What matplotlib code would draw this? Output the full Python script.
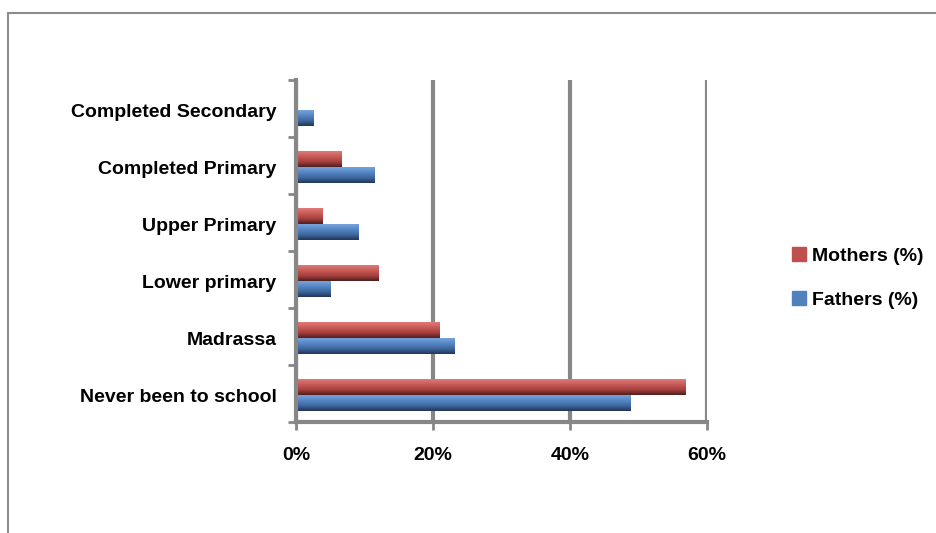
import numpy as np
import matplotlib
matplotlib.use('Agg')
import matplotlib.pyplot as plt
from matplotlib.patches import Rectangle
from matplotlib.colors import LinearSegmentedColormap
import matplotlib.ticker as ticker

plt.rcParams['font.family'] = ['Liberation Sans Narrow', 'Liberation Sans', 'DejaVu Sans']

## data ######################################################################
levels = ['Never been to school', 'Madrassa', 'Lower primary',
          'Upper Primary', 'Completed Primary', 'Completed Secondary']
mothers = [56.8, 21.0, 12.0, 3.9, 6.6, 0.0]
fathers = [48.9, 23.2, 5.1, 9.1, 11.5, 2.6]
series_names = ['Mothers (%)', 'Fathers (%)']
xticks = [0, 20, 40, 60]

red_cm = LinearSegmentedColormap.from_list('red3d', ['#e07a77', '#c75b58', '#a8403d', '#4e1f1e'])
blue_cm = LinearSegmentedColormap.from_list('blue3d', ['#76a3dc', '#5586c4', '#3e679e', '#22365a'])

GRID = '#878787'
BAR_H = 0.28
FS = 14


def gradient_bar(ax, y0, width, height, cmap):
    ''' draws one horizontal bar filled with a top-to-bottom shading '''
    if width <= 0:
        return
    grad = np.linspace(0, 1, 64).reshape(-1, 1)
    ax.imshow(grad, cmap=cmap, aspect='auto', interpolation='bilinear',
              extent=(0, width, y0, y0 + height), origin='upper', zorder=3)


fig = plt.figure(figsize=(9.36, 5.33), dpi=100)
ax = fig.add_axes([296 / 936, 1 - 422 / 533, 411 / 936, 342 / 533])

y = np.arange(len(levels))
for i in y:
    gradient_bar(ax, i - 0.03, mothers[i], BAR_H, red_cm)
    gradient_bar(ax, i - 0.03 - BAR_H, fathers[i], BAR_H, blue_cm)

ax.set_xlim(0, 60)
ax.set_ylim(-0.5, len(levels) - 0.5)

# category ticks sit on the boundaries, labels in the middle
ax.yaxis.set_major_locator(ticker.FixedLocator(np.arange(-0.5, len(levels), 1)))
ax.yaxis.set_major_formatter(ticker.NullFormatter())
ax.yaxis.set_minor_locator(ticker.FixedLocator(y - 0.04))
ax.yaxis.set_minor_formatter(ticker.FixedFormatter(levels))
ax.tick_params(axis='y', which='minor', length=0, pad=14, labelsize=FS)
ax.tick_params(axis='y', which='major', length=6, width=2, color=GRID, direction='out')
for lab in ax.get_yticklabels(minor=True):
    lab.set_fontweight('bold')

ax.set_xticks(xticks)
ax.set_xticklabels(['%d%%' % t for t in xticks], fontsize=FS, fontweight='bold')
ax.tick_params(axis='x', length=6, width=2, color=GRID, pad=12)

ax.grid(axis='x', color=GRID, linewidth=3, zorder=1)
for side in ['top', 'right']:
    ax.spines[side].set_visible(False)
for side in ['left', 'bottom']:
    ax.spines[side].set_color(GRID)
    ax.spines[side].set_linewidth(3)
    ax.spines[side].set_zorder(4)

# legend with plain square markers
handles = [Rectangle((0, 0), 1, 1, color='#c0504d'), Rectangle((0, 0), 1, 1, color='#4f81bd')]
fig.legend(handles, series_names, loc='center left', bbox_to_anchor=(784 / 936, 1 - 278 / 533),
           frameon=False, handlelength=0.75, handleheight=0.75, handletextpad=0.3,
           labelspacing=1.35, borderaxespad=0, prop={'size': FS, 'weight': 'bold'})

# chart border
fig.patches.append(Rectangle((8 / 936, -0.1), 1.2, 1.1 - 13 / 533, transform=fig.transFigure,
                             fill=False, edgecolor='#8c8c8c', linewidth=1.5))

fig.savefig('out.png', dpi=100)
